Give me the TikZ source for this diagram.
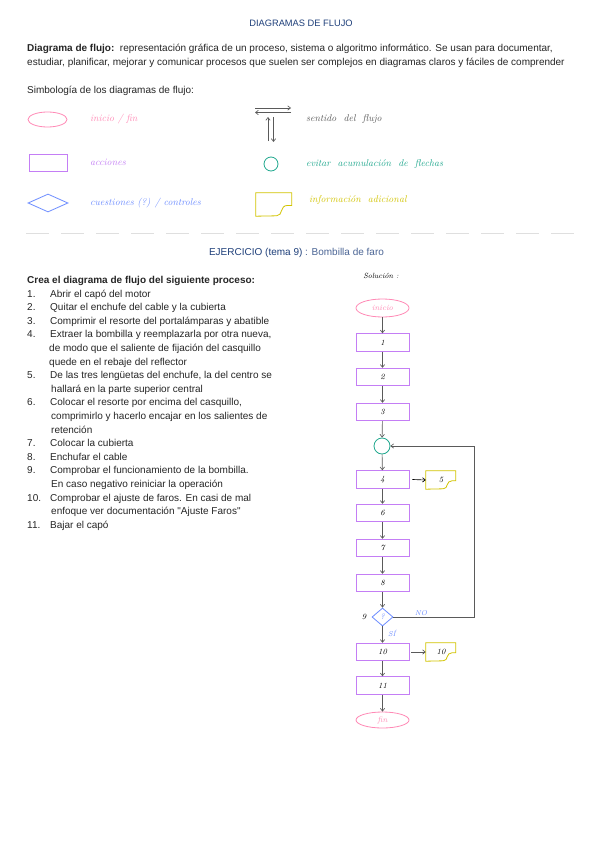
\documentclass[tikz,border=0pt]{standalone}
\usepackage{fontspec}
\newfontfamily\liber{Liberation Sans}
\usetikzlibrary{shapes.geometric,arrows.meta,calc}

\definecolor{titulo}{HTML}{1E3F7A}
\definecolor{rosa}{HTML}{FF8AB6}
\definecolor{lila}{HTML}{C47EF5}
\definecolor{azul}{HTML}{6C8CFF}
\definecolor{turquesa}{HTML}{20A88E}
\definecolor{amarillo}{HTML}{D2C400}
\definecolor{gris}{HTML}{5A5A5A}
\definecolor{cuerpo}{HTML}{262626}

\newcommand{\texto}{\liber\fontsize{10}{13.6}\selectfont}
\newcommand{\mano}[1][9.8]{\normalfont\itshape\fontsize{#1}{#1}\selectfont}

% hoja de informacion adicional: nodo, ancho, alto, color
\newcommand{\hoja}[4]{%
  \draw[#4, line width=0.8pt] (#1.north west) -- ++(#2,0) -- ++(0,{0.55*#3})
    -- ++({-0.12*#2},0) .. controls +({-0.22*#2},0) and +({0.18*#2},0) .. ++({-0.3*#2},{0.45*#3})
    -- (#1.south west) -- cycle;}

\tikzset{
  flecha/.style={gris, line width=0.65pt, -{Straight Barb[length=2.8pt,width=4.4pt]}},
  inifin/.style={ellipse, draw=rosa, line width=0.8pt, text=rosa, inner sep=0pt},
  accion/.style={rectangle, draw=lila, line width=0.9pt, inner sep=0pt},
  cuestion/.style={diamond, draw=azul, line width=0.8pt, text=azul, inner sep=0pt},
  union/.style={circle, draw=turquesa, line width=0.8pt, inner sep=0pt},
  hojatexto/.style 2 args={rectangle, inner sep=0pt, minimum width=#1, minimum height=#2},
  paso/.style={accion, minimum width=53, minimum height=17.5, text=black, font={\mano[8]}},
  leyenda/.style={anchor=west, inner sep=0pt, font={\mano[9.8]}}
}

\begin{document}
\begin{tikzpicture}[x=1pt, y=-1pt, every node/.style={font=\texto, text=cuerpo}]
\useasboundingbox (0,0) rectangle (600,848);
\fill[white] (0,0) rectangle (600,848);

% cabecera
\node[text=titulo, inner sep=0pt] (cab) at (301,23) {\fontsize{9.3}{10}\selectfont DIAGRAMAS DE FLUJO};
\node[anchor=west, inner sep=0pt] (def1) at (27,49) {\textbf{Diagrama de flujo:}\ \ representación gráfica de un proceso, sistema o algoritmo informático. Se usan para documentar,};
\node[anchor=west, inner sep=0pt] (def2) at (27,63) {estudiar, planificar, mejorar y comunicar procesos que suelen ser complejos en diagramas claros y fáciles de comprender};
\node[anchor=west, inner sep=0pt] (simb) at (27,91) {Simbología de los diagramas de flujo:};

% simbolos
\node[inifin, minimum width=39, minimum height=15] (s1) at (47.5,119.5) {};
\node[accion, minimum width=38, minimum height=17] (s2) at (48,162.5) {};
\node[cuestion, minimum width=40, minimum height=18] (s3) at (48,203) {};
\node[union, minimum size=14] (s4) at (271,164) {};
\node[hojatexto={36}{23}] (s5) at (274,204.5) {};
\hoja{s5}{36}{23}{amarillo}

\node[leyenda, text=rosa] (t1) at (90,119) {inicio / fin};
\node[leyenda, text=lila] (t2) at (90,162) {acciones};
\node[leyenda, text=azul] (t3) at (90,203) {cuestiones (?) / controles};
\node[leyenda, text=gris] (t4) at (306,119) {sentido \ del \ flujo};
\node[leyenda, text=turquesa] (t5) at (306,164) {evitar \ acumulación \ de \ flechas};
\node[leyenda, text=amarillo] (t6) at (309,200) {información \ adicional};

\coordinate (a1) at (255,108);
\coordinate (a2) at (291,108);
\coordinate (b1) at (291,112.5);
\coordinate (b2) at (255,112.5);
\coordinate (c1) at (268,141);
\coordinate (c2) at (268,117);
\coordinate (d1) at (273.5,117);
\coordinate (d2) at (273.5,142);
\draw[flecha] (a1) -- (a2);
\draw[flecha] (b1) -- (b2);
\draw[flecha] (c1) -- (c2);
\draw[flecha] (d1) -- (d2);

\draw[gray!25, line width=0.8pt, dash pattern=on 23pt off 12pt] (26,233) -- (581,233);

% ejercicio
\node[inner sep=0pt] (ejer) at (296.5,253) {\textcolor{titulo}{EJERCICIO (tema 9)} \textcolor{titulo!80}{: Bombilla de faro}};

\node[anchor=north west, align=left, inner sep=0pt] (lista) at (27,276) {%
\textbf{Crea el diagrama de flujo del siguiente proceso:}\\
\makebox[23pt][l]{1.}Abrir el capó del motor\\
\makebox[23pt][l]{2.}Quitar el enchufe del cable y la cubierta\\
\makebox[23pt][l]{3.}Comprimir el resorte del portalámparas y abatible\\
\makebox[23pt][l]{4.}Extraer la bombilla y reemplazarla por otra nueva,\\
\hspace*{22pt}de modo que el saliente de fijación del casquillo\\
\hspace*{22pt}quede en el rebaje del reflector\\
\makebox[23pt][l]{5.}De las tres lengüetas del enchufe, la del centro se\\
\hspace*{24pt}hallará en la parte superior central\\
\makebox[23pt][l]{6.}Colocar el resorte por encima del casquillo,\\
\hspace*{24pt}comprimirlo y hacerlo encajar en los salientes de\\
\hspace*{24pt}retención\\
\makebox[23pt][l]{7.}Colocar la cubierta\\
\makebox[23pt][l]{8.}Enchufar el cable\\
\makebox[23pt][l]{9.}Comprobar el funcionamiento de la bombilla.\\
\hspace*{24pt}En caso negativo reiniciar la operación\\
\makebox[23pt][l]{10.}Comprobar el ajuste de faros. En casi de mal\\
\hspace*{24pt}enfoque ver documentación "Ajuste Faros"\\
\makebox[23pt][l]{11.}Bajar el capó};

% solucion
\node[inner sep=0pt, text=black, font={\mano[7.5]}] (sol) at (381,276) {Solución :};

\node[inifin, minimum width=53, minimum height=18, font={\mano[8]}] (ini) at (382.5,308) {inicio};
\node[paso] (p1) at (382.5,342.5) {1};
\node[paso] (p2) at (382.5,377) {2};
\node[paso] (p3) at (382.5,412) {3};
\node[union, minimum size=16] (u) at (382,446) {};
\node[paso] (p4) at (382.5,479.5) {4};
\node[hojatexto={30}{18}, text=black, font={\mano[8]}] (h5) at (441,480) {5\hspace{8pt}};
\hoja{h5}{30}{18}{amarillo}
\node[paso] (p6) at (382.5,513) {6};
\node[paso] (p7) at (382.5,548) {7};
\node[paso] (p8) at (382.5,583) {8};
\node[cuestion, minimum width=21, minimum height=18, font={\mano[8]}] (q9) at (382.5,617) {?};
\node[paso] (p10) at (382.5,652) {10};
\node[hojatexto={30}{18}, text=black, font={\mano[8]}] (h10) at (441,652) {10\hspace{6pt}};
\hoja{h10}{30}{18}{amarillo}
\node[paso] (p11) at (382.5,685.5) {11};
\node[inifin, minimum width=53, minimum height=16, font={\mano[8]}] (fin) at (382.5,720) {fin};

\node[inner sep=0pt, text=black, font={\mano[8]}] (n9) at (364,617) {9};
\node[inner sep=0pt, text=azul, font={\mano[7]}] (no) at (421,613) {NO};
\node[inner sep=0pt, text=azul, font={\mano[7]}] (si) at (392,633) {SÍ};
\coordinate (ret) at (474,446);

\draw[flecha] (ini) -- (p1);
\draw[flecha] (p1) -- (p2);
\draw[flecha] (p2) -- (p3);
\draw[flecha] (p3) -- (u);
\draw[flecha] (u) -- (p4);
\draw[flecha, black] ([xshift=3pt]p4.east) -- (h5.west);
\draw[flecha] (p4) -- (p6);
\draw[flecha] (p6) -- (p7);
\draw[flecha] (p7) -- (p8);
\draw[flecha] (p8) -- (q9);
\draw[flecha] (q9) -- (p10);
\draw[flecha] ([xshift=2pt]p10.east) -- (h10.west);
\draw[flecha] (p10) -- (p11);
\draw[flecha] (p11) -- (fin);
\draw[flecha] (q9.east) -| (ret) -- (u.east);

\end{tikzpicture}
\end{document}
